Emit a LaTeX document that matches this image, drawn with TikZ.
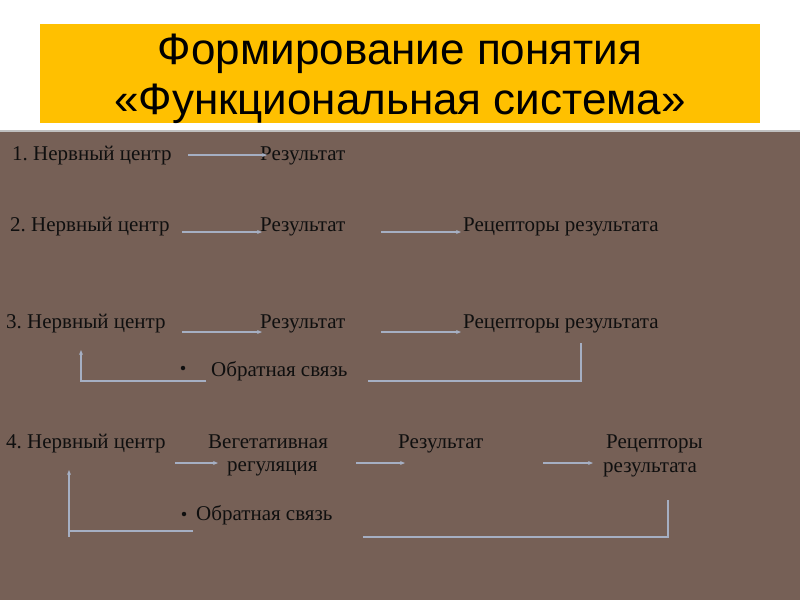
\documentclass[tikz,border=0pt]{standalone}
\usepackage{fontspec}
\setmainfont{Liberation Serif}
\newfontfamily\titlefont{Liberation Sans}
\usetikzlibrary{arrows.meta}
\frenchspacing
\definecolor{bgbrown}{RGB}{118,96,86}
\definecolor{titleyellow}{RGB}{255,192,0}
\definecolor{linecol}{RGB}{165,175,195}
\definecolor{txt}{RGB}{15,15,15}
\begin{document}
\begin{tikzpicture}[x=1pt,y=-1pt,
  lbl/.style={anchor=base west,inner sep=0pt,font=\fontsize{21}{23}\selectfont,text=txt},
  ttl/.style={anchor=base,inner sep=0pt,font=\titlefont\fontsize{44}{48}\selectfont,text=black},
  conn/.style={draw=linecol,line width=1.4pt},
  arr/.style={conn,-{Stealth[length=5pt,width=4pt]}},
  bul/.style={circle,fill=txt,inner sep=0pt,minimum size=4.5pt}
]
\useasboundingbox (0,0) rectangle (800,600);
\fill[white] (0,0) rectangle (800,130);
\fill[bgbrown] (0,130) rectangle (800,600);
\draw[gray!50, line width=2pt] (0,131) -- (800,131);
\fill[titleyellow] (40,24) rectangle (760,123);
\node[ttl] (t1) at (400,64) {Формирование понятия};
\node[ttl] (t2) at (400,114) {«Функциональная система»};

% Row 1
\node[lbl] (n1) at (12,160) {1. Нервный центр};
\node[lbl] (r1) at (260,160) {Результат};
\coordinate (a1s) at (188,155); \coordinate (a1e) at (267,155);
\draw[arr] (a1s) -- (a1e);

% Row 2
\node[lbl] (n2) at (10,231) {2. Нервный центр};
\node[lbl] (r2) at (260,231) {Результат};
\node[lbl] (p2) at (463,231) {Рецепторы результата};
\coordinate (a2s) at (182,232); \coordinate (a2e) at (262,232);
\coordinate (b2s) at (381,232); \coordinate (b2e) at (461,232);
\draw[arr] (a2s) -- (a2e);
\draw[arr] (b2s) -- (b2e);

% Row 3
\node[lbl] (n3) at (6,328) {3. Нервный центр};
\node[lbl] (r3) at (260,328) {Результат};
\node[lbl] (p3) at (463,328) {Рецепторы результата};
\coordinate (a3s) at (182,332); \coordinate (a3e) at (262,332);
\coordinate (b3s) at (381,332); \coordinate (b3e) at (461,332);
\draw[arr] (a3s) -- (a3e);
\draw[arr] (b3s) -- (b3e);
\node[bul] (d3) at (183,368) {};
\node[lbl] (f3) at (211,376) {Обратная связь};
\coordinate (f3l) at (206,381); \coordinate (f3c) at (81,381); \coordinate (f3t) at (81,350);
\coordinate (f3r) at (368,381); \coordinate (f3k) at (581,381); \coordinate (f3u) at (581,343);
\draw[arr] (f3l) -- (f3c) -- (f3t);
\draw[conn] (f3r) -- (f3k) -- (f3u);

% Row 4
\node[lbl] (n4) at (6,448) {4. Нервный центр};
\node[lbl] (v4) at (208,448) {Вегетативная};
\node[lbl] (v4b) at (227,471) {регуляция};
\node[lbl] (r4) at (398,448) {Результат};
\node[lbl] (p4) at (606,448) {Рецепторы};
\node[lbl] (p4b) at (603,472) {результата};
\coordinate (a4s) at (175,463); \coordinate (a4e) at (218,463);
\coordinate (b4s) at (356,463); \coordinate (b4e) at (405,463);
\coordinate (c4s) at (543,463); \coordinate (c4e) at (593,463);
\draw[arr] (a4s) -- (a4e);
\draw[arr] (b4s) -- (b4e);
\draw[arr] (c4s) -- (c4e);
\node[bul] (d4) at (184,514) {};
\node[lbl] (f4) at (196,520) {Обратная связь};
\coordinate (f4l) at (193,531); \coordinate (f4c) at (69,531);
\coordinate (f4b) at (69,537); \coordinate (f4t) at (69,470);
\coordinate (f4r) at (363,537); \coordinate (f4k) at (668,537); \coordinate (f4u) at (668,500);
\draw[conn] (f4l) -- (f4c);
\draw[arr] (f4b) -- (f4t);
\draw[conn] (f4r) -- (f4k) -- (f4u);
\end{tikzpicture}
\end{document}
